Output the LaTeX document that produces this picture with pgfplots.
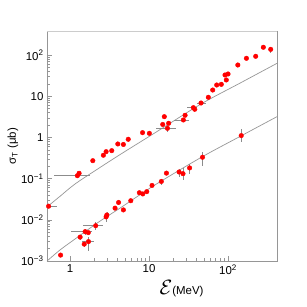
\documentclass[border=0pt]{standalone}
\usepackage{pgfplots}
\pgfplotsset{compat=1.18}
\usepackage{fontspec}
\setmainfont{Liberation Sans}
\definecolor{axgray}{RGB}{150,150,150}
\definecolor{ebgray}{RGB}{140,140,140}
\definecolor{thgray}{RGB}{150,150,150}
\begin{document}
\begin{tikzpicture}
\begin{loglogaxis}[
 width=230bp, height=230bp, scale only axis,
 xmin=0.51, xmax=417, ymin=1e-3, ymax=385,
 axis line style={axgray, line width=0.9pt},
 tick style={axgray, line width=0.6pt},
 tick pos=left, tick align=inside,
 major tick length=5bp, minor tick length=3bp,
 xtick={1,10,100}, xticklabels={1,10,10\textsuperscript{2}},
 ytick={1e-3,1e-2,1e-1,1,10,100},
 yticklabels={10\textsuperscript{−3},10\textsuperscript{−2},10\textsuperscript{−1},1,10,10\textsuperscript{2}},
 tick label style={font=\fontsize{11.5}{13}\selectfont, black},
 ylabel={σ\textsubscript{T} (μb)},
 ylabel style={at={(axis description cs:-0.148,0.5)}, anchor=center, font=\fontsize{11.5}{13}\selectfont},
 xlabel={{\fontsize{22}{22}\selectfont$\mathcal{E}$}(MeV)},
 xlabel style={at={(axis description cs:0.585,-0.1435)}, anchor=base, font=\fontsize{11.5}{13}\selectfont},
 clip=true,
]
% theory curves
\addplot[thgray, line width=0.7pt, smooth] coordinates {
(0.511,0.0206) (0.747,0.0374) (1.157,0.0743) (2.26,0.174) (4.42,0.398) (11.6,1.26) (45.5,6.50) (142,20.9) (417,63.2)};
\addplot[thgray, line width=0.7pt, smooth] coordinates {
(0.511,0.00100) (0.747,0.00186) (1.157,0.00343) (2.26,0.00865) (4.42,0.0200) (11.6,0.0684) (45.5,0.327) (142,1.06) (417,3.20)};
% upper data
\addplot[only marks, mark=*, mark size=2.3pt, color=red,
 error bars/.cd, x dir=both, y dir=both, x explicit, y explicit,
 error bar style={ebgray, line width=0.6pt}, error mark=none]
 table[x=E, y=s, x error minus=exm, x error plus=exp, y error minus=eym, y error plus=eyp] {
E s exm exp eym eyp
0.534 0.0214 0.02 0.15 0 0
1.237 0.118 0.62 0.55 0 0
1.30 0.135 0 0 0 0
1.94 0.273 0 0 0 0
2.64 0.370 0 0 0 0
2.86 0.452 0 0 0 0
3.37 0.478 0 0 0 0
4.02 0.695 0 0 0.06 0.06
4.73 0.676 0 0 0 0
5.45 0.904 0 0 0.08 0.08
8.27 1.31 0 0 0 0
10.09 1.26 0 0 0 0
14.9 2.07 0 0 0 0
15.6 3.20 0 0 0 0
17.7 2.21 0 0 0 0
17.1 1.67 5.0 4.9 0.29 0.58
27.2 2.66 6.5 5.1 0 0
28.6 3.46 0 0 0 0
36.4 5.29 6 4 0 0
37.9 4.84 0 0 0.4 0.4
45.5 6.87 5 7 0 0
56.3 9.46 0 0 0.8 0.8
64.0 14.2 0 0 0 0
71.9 18.8 0 0 0 0
82.2 19.5 0 0 0 0
91.6 32.9 0 0 0 0
100 34.8 0 0 0 0
95.1 24.9 0 0 0 0
133 57.5 0 0 0 0
171 83.6 0 0 0 0
224 93.5 0 0 0 0
280 155 0 0 0 0
347 138 0 0 28 22
};
% lower data
\addplot[only marks, mark=*, mark size=2.3pt, color=red,
 error bars/.cd, x dir=both, y dir=both, x explicit, y explicit,
 error bar style={ebgray, line width=0.6pt}, error mark=none]
 table[x=E, y=s, x error minus=exm, x error plus=exp, y error minus=eym, y error plus=eyp] {
E s exm exp eym eyp
0.758 0.00139 0 0 0 0
1.34 0.00380 0 0 0.0006 0.0006
1.55 0.00517 0.52 0.33 0.0008 0.0008
1.70 0.00489 0 0 0 0
1.51 0.00257 0 0 0.0004 0.0004
1.71 0.00296 0.30 0.29 0.0012 0.0009
2.11 0.00719 0.65 0.51 0.0015 0.0015
2.86 0.0118 0 0 0.0029 0.0029
2.92 0.0131 0 0 0.002 0.002
3.71 0.0192 0 0 0 0
4.11 0.0264 0 0 0.004 0.004
4.73 0.0174 0 0 0 0
5.87 0.0291 0 0 0 0
7.54 0.0455 0 0 0 0
8.32 0.0425 0 0 0 0
9.35 0.0483 0 0 0.005 0.005
10.9 0.0684 0 0 0 0
14.3 0.0855 0 0 0.015 0.015
16.6 0.136 0 0 0 0
24.0 0.145 0 0 0.037 0.026
26.9 0.132 0 0 0.039 0.049
32.6 0.182 0 0 0.052 0.045
47.5 0.331 0 0 0.125 0.12
147 1.11 0 0 0.35 0.50
};
\draw[gray!40, line width=1.8pt] (rel axis cs:0,1) -- (rel axis cs:1,1);
\end{loglogaxis}
\pgfresetboundingbox
\path[use as bounding box] ([xshift=-47bp,yshift=-46bp]current axis.south west) rectangle ([xshift=30bp,yshift=31bp]current axis.north east);
\end{tikzpicture}
\end{document}
